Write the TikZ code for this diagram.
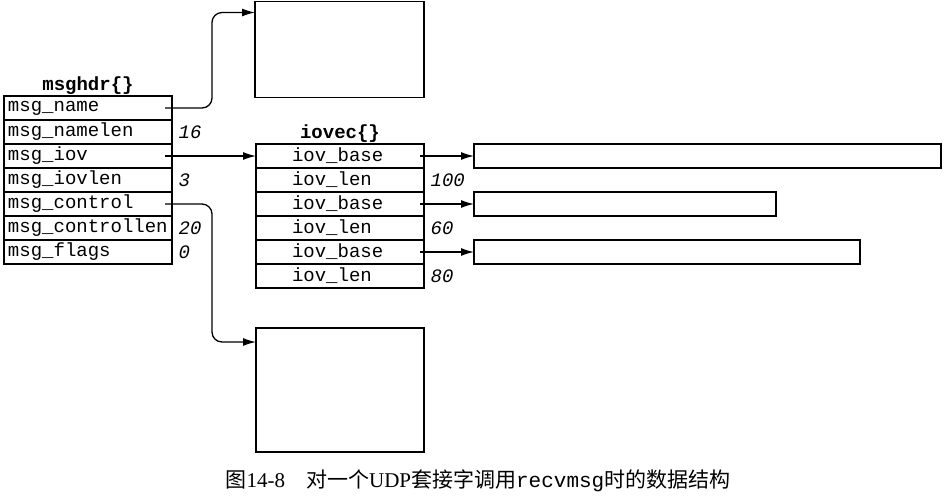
\documentclass[tikz,border=0pt]{standalone}
\usepackage{fontspec}
\setmainfont{Liberation Serif}
\setmonofont{Liberation Mono}
\newfontfamily\cjk{Noto Sans CJK SC}
\usepackage{tikz}
\usetikzlibrary{positioning, arrows.meta}

\begin{document}
\begin{tikzpicture}[x=0.5pt, y=-0.5pt, node distance=0pt, line width=0.65pt,
	f/.style={draw, outer sep=0pt, minimum height=12pt, text width=80pt, inner xsep=2pt, inner ysep=0pt, align=left, font=\fontsize{9.5}{11}\ttfamily},
	g/.style={f, text width=48pt, inner xsep=18pt},
	v/.style={inner sep=0pt, font=\fontsize{9.5}{11}\ttfamily\itshape},
	t/.style={inner sep=0pt, font=\fontsize{9.5}{11}\ttfamily\bfseries},
	b/.style={draw, outer sep=0pt, inner sep=0pt, minimum height=12pt},
	p/.style={-{Latex[length=6.5pt, width=4pt]}}]
		\useasboundingbox (0,0) rectangle (952,500);

		% msghdr{}
		\node[f, anchor=north west] (name) at (4,96) {msg\_name};
		\node[f, below=of name] (namelen) {msg\_namelen};
		\node[f, below=of namelen] (iov) {msg\_iov};
		\node[f, below=of iov] (iovlen) {msg\_iovlen};
		\node[f, below=of iovlen] (control) {msg\_control};
		\node[f, below=of control] (controllen) {msg\_controllen};
		\node[f, below=of controllen] (flags) {msg\_flags};
		\node[t, above=0.5pt of name] (msghdr) {msghdr\{\}};

		\node[v, right=3pt of namelen] (namelenv) {16};
		\node[v, right=3pt of iovlen] (iovlenv) {3};
		\node[v, right=3pt of controllen] (controllenv) {20};
		\node[v, right=3pt of flags] (flagsv) {0};

		% iovec{}
		\node[g, anchor=north west] (base1) at (256,144) {iov\_base};
		\node[g, below=of base1] (len1) {iov\_len};
		\node[g, below=of len1] (base2) {iov\_base};
		\node[g, below=of base2] (len2) {iov\_len};
		\node[g, below=of len2] (base3) {iov\_base};
		\node[g, below=of base3] (len3) {iov\_len};
		\node[t, above=0.5pt of base1] (iovec) {iovec\{\}};

		\node[v, right=3pt of len1] (len1v) {100};
		\node[v, right=3pt of len2] (len2v) {60};
		\node[v, right=3pt of len3] (len3v) {80};

		% buffers
		\node[b, anchor=north west, minimum width=84.5pt, minimum height=48pt] (namebuf) at (255,1.5) {};
		\node[b, anchor=north west, minimum width=84pt, minimum height=62pt] (controlbuf) at (256,328) {};
		\node[b, minimum width=233.5pt, right=25pt of base1] (buf1) {};
		\node[b, minimum width=151pt, right=25pt of base2] (buf2) {};
		\node[b, minimum width=193pt, right=25pt of base3] (buf3) {};

		\draw[p, rounded corners=5pt] ([xshift=-3.5pt]name.east) -| ([xshift=-21.5pt, yshift=-5.5pt]namebuf.north west) -- ([yshift=-5.5pt]namebuf.north west);
		\draw[p] ([xshift=-3.5pt]iov.east) -- (base1.west);
		\draw[p, rounded corners=5pt] ([xshift=-3.5pt]control.east) -| ([xshift=-22pt, yshift=-7pt]controlbuf.north west) -- ([yshift=-7pt]controlbuf.north west);
		\draw[p] ([xshift=-2pt]base1.east) -- (buf1.west);
		\draw[p] ([xshift=-2pt]base2.east) -- (buf2.west);
		\draw[p] ([xshift=-2pt]base3.east) -- (buf3.west);

		\node[font=\fontsize{10.5}{12}\selectfont] (caption) at (478,481) {{\cjk 图}14-8\quad{\cjk 对一个}UDP{\cjk 套接字调用}\texttt{recvmsg}{\cjk 时的数据结构}};
	\end{tikzpicture}
\end{document}
